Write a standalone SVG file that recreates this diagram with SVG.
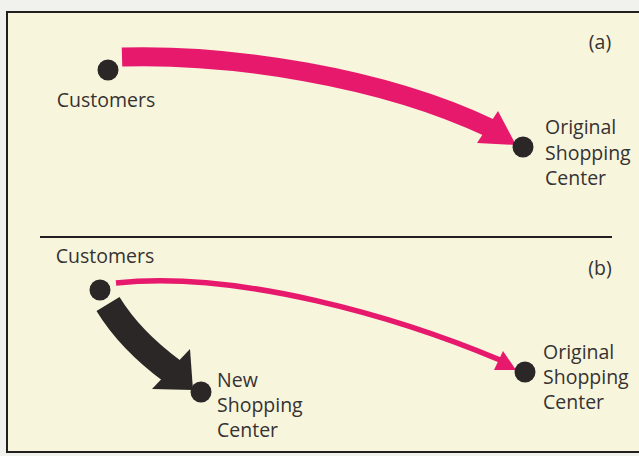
<svg xmlns="http://www.w3.org/2000/svg" width="639" height="456" viewBox="0 0 639 456">
  <style>
    .lbl { font-family: "Open Sans", "Liberation Sans", sans-serif; font-size: 19.5px; fill: #363232; }
    .dot { fill: #2b2727; }
    .pink { fill: none; stroke: #e6196c; stroke-linecap: butt; }
    .pinkhead { fill: #e6196c; }
    .dark { fill: none; stroke: #2b2727; stroke-linecap: butt; }
    .darkhead { fill: #2b2727; }
    .rule { stroke: #231f20; stroke-width: 2; fill: none; }
    .frame { stroke: #231f20; stroke-width: 2; fill: #f8f5dd; }
  </style>

  <!-- page and frame -->
  <rect x="0" y="0" width="639" height="456" fill="#f1f1ee"/>
  <rect x="7" y="12" width="650" height="440" class="frame"/>
  <line x1="40" y1="237" x2="612" y2="237" class="rule"/>

  <!-- panel labels -->
  <text class="lbl" x="600" y="49" text-anchor="middle">(a)</text>
  <text class="lbl" x="600" y="275" text-anchor="middle">(b)</text>

  <!-- connectors -->
  <g id="connectors">
    <!-- (a) customers to original centre -->
    <path class="pink" stroke-width="19" d="M122,57 C230,54 380,76 490,128"/>
    <polygon class="pinkhead" points="477,143 498,111 516,145"/>
    <!-- (b) customers to original centre (weak flow) -->
    <path class="pink" stroke-width="5.5" d="M116,283 C240,270 400,318 500,360"/>
    <polygon class="pinkhead" points="494,370 503,351 516,370"/>
    <!-- (b) customers to new centre (strong flow) -->
    <path class="dark" stroke-width="27" d="M108,304 Q130,340 172,371"/>
    <polygon class="darkhead" points="152,389 190,349 193,390"/>
  </g>

  <!-- panel (a) nodes -->
  <g id="customers-a">
    <circle class="dot" cx="108" cy="70" r="10.5"/>
    <text class="lbl" x="106" y="107" text-anchor="middle">Customers</text>
  </g>
  <g id="original-a">
    <circle class="dot" cx="523" cy="147" r="10.5"/>
    <text class="lbl" x="545" y="134">Original</text>
    <text class="lbl" x="545" y="160">Shopping</text>
    <text class="lbl" x="545" y="185">Center</text>
  </g>

  <!-- panel (b) nodes -->
  <g id="customers-b">
    <circle class="dot" cx="100" cy="290" r="10.5"/>
    <text class="lbl" x="105" y="263" text-anchor="middle">Customers</text>
  </g>
  <g id="new-b">
    <circle class="dot" cx="201" cy="392" r="10.5"/>
    <text class="lbl" x="217" y="387">New</text>
    <text class="lbl" x="217" y="412">Shopping</text>
    <text class="lbl" x="217" y="437">Center</text>
  </g>
  <g id="original-b">
    <circle class="dot" cx="525" cy="372" r="10.5"/>
    <text class="lbl" x="543" y="359">Original</text>
    <text class="lbl" x="543" y="384">Shopping</text>
    <text class="lbl" x="543" y="409">Center</text>
  </g>
</svg>
